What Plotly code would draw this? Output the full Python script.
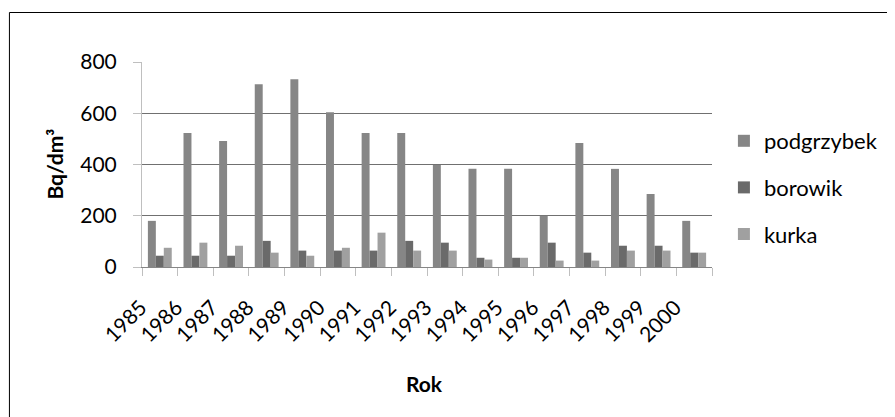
import plotly.graph_objects as go

years = [str(y) for y in range(1985, 2001)]
podgrzybek = [180, 523, 492, 713, 733, 604, 523, 523, 398, 383, 383, 200, 484, 383, 285, 180]
borowik = [44, 44, 44, 102, 64, 64, 64, 102, 95, 36, 36, 95, 56, 83, 83, 56]
kurka = [75, 95, 83, 56, 44, 75, 134, 64, 64, 29, 36, 25, 25, 64, 64, 56]

series = [("podgrzybek", podgrzybek, "#868686"),
          ("borowik", borowik, "#6a6a6a"),
          ("kurka", kurka, "#a0a0a0")]

FONT = "Lato, Open Sans, sans-serif"

fig = go.Figure()
for i, (name, vals, col) in enumerate(series):
    fig.add_trace(go.Bar(x=years, y=vals, name=name, marker_color=col,
                         marker_line_width=0, legendgroup=name))

# page has an 8px body margin; coordinates below are window pixels
OFF = 8
L, R, T, B = 142, 716, 62, 267
W, H = 895 - OFF, 417 - OFF
pw, ph = R - L, B - T

def px(xp):
    return (xp - L) / pw

def py(yp):
    return (B - yp) / ph

fig.update_layout(
    width=W, height=H,
    margin=dict(l=L - OFF, r=W - (R - OFF), t=T - OFF, b=H - (B - OFF), pad=0),
    paper_bgcolor="white", plot_bgcolor="white",
    font=dict(family=FONT, size=20, color="black"),
    barmode="group", bargap=0.33, bargroupgap=0,
    showlegend=True,
    legend=dict(x=px(728), y=py(120), xanchor="left", yanchor="top",
                traceorder="grouped", tracegroupgap=15,
                font=dict(family=FONT, size=22), itemwidth=30,
                bgcolor="rgba(0,0,0,0)"),
    xaxis=dict(type="category", showgrid=False, tickangle=-45,
               ticks="outside", ticklen=8, tickcolor="#bfbfbf", tickson="boundaries",
               showline=True, linecolor="#868686", linewidth=1,
               ticksuffix="\u00a0\u00a0\u00a0\u00a0\u00a0",
               tickfont=dict(family=FONT, size=21)),
    yaxis=dict(range=[0, 800], dtick=200, showgrid=True, gridcolor="#707070", gridwidth=1.3,
               ticks="outside", ticklen=8, tickcolor="#bfbfbf",
               showline=True, linecolor="#bfbfbf", linewidth=1,
               zeroline=False, ticklabelstandoff=12,
               tickfont=dict(family=FONT, size=21)),
    annotations=[
        dict(text="<b>Bq/dm³</b>", x=px(53), y=py(164), xref="paper", yref="paper",
             xanchor="center", yanchor="middle",
             textangle=-90, showarrow=False, font=dict(family=FONT, size=21)),
        dict(text="<b>Rok</b>", x=px(426), y=py(383), xref="paper", yref="paper",
             xanchor="center", yanchor="middle",
             showarrow=False, font=dict(family=FONT, size=21)),
    ],
    shapes=[
        dict(type="rect", xref="paper", yref="paper",
             x0=px(8.5), x1=px(894), y0=py(418), y1=py(12.5),
             line=dict(color="black", width=1), fillcolor="rgba(0,0,0,0)", layer="below"),
    ],
)

fig.write_html("out.html")
